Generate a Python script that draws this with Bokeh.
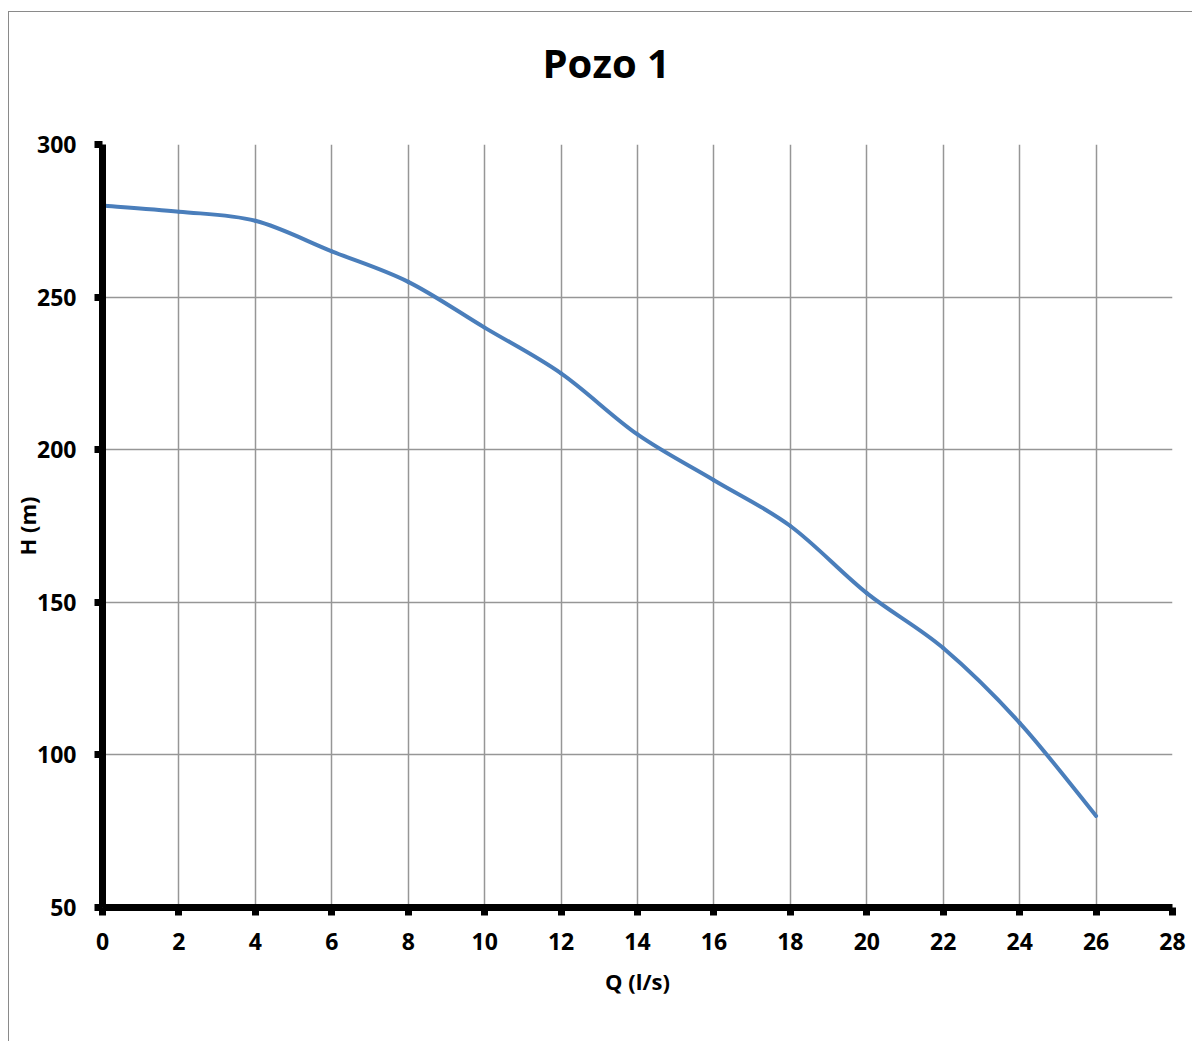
import numpy as np
from bokeh.plotting import figure
from bokeh.models import Range1d, SingleIntervalTicker, Title
from bokeh.embed import file_html
from bokeh.resources import INLINE

# data
q_values = [0, 2, 4, 6, 8, 10, 12, 14, 16, 18, 20, 22, 24, 26]
h_values = [280, 278, 275, 265, 255, 240, 225, 205, 190, 175, 153, 135, 110.5, 80]
x_ticks_step = 2
y_ticks_step = 50
title_text = "Pozo 1"

FONT = "Open Sans"

p = figure(width=1184, height=1030, output_backend="svg", toolbar_location=None,
           x_range=Range1d(0, 28), y_range=Range1d(50, 300),
           min_border_left=92, min_border_right=21, min_border_top=132, min_border_bottom=135,
           styles={"border-left": "1px solid #8a8a8a", "border-top": "1px solid #8a8a8a",
                   "margin-top": "11px", "margin-left": "8px"})

# real title (outermost in the "above" stack)
p.title.text = title_text
p.title.align = "left"
p.title.offset = 440
p.title.text_font = FONT
p.title.text_font_style = "bold"
p.title.text_font_size = "40px"
p.title.text_color = "black"
p.title.standoff = 0

# blank spacer between the title and the frame
p.add_layout(Title(text=" ", text_font=FONT, text_font_size="39px", standoff=0), "above")

p.outline_line_color = None
p.background_fill_color = "white"
p.border_fill_color = "white"

for ax in (p.xaxis[0], p.yaxis[0]):
    ax.axis_line_width = 7
    ax.axis_line_color = "black"
    ax.major_tick_line_width = 7
    ax.major_tick_line_color = "black"
    ax.major_tick_out = 8
    ax.major_tick_in = 0
    ax.minor_tick_line_color = None
    ax.major_label_text_font = FONT
    ax.major_label_text_font_style = "bold"
    ax.major_label_text_font_size = "23px"
    ax.major_label_text_color = "black"
    ax.axis_label_text_font = FONT
    ax.axis_label_text_font_style = "bold"
    ax.axis_label_text_font_size = "22px"
    ax.axis_label_text_color = "black"

p.xaxis[0].ticker = SingleIntervalTicker(interval=x_ticks_step)
p.yaxis[0].ticker = SingleIntervalTicker(interval=y_ticks_step)
p.xaxis[0].axis_label = "Q (l/s)"
p.yaxis[0].axis_label = "H (m)"
p.xaxis[0].major_label_standoff = 17
p.yaxis[0].major_label_standoff = 18
p.xaxis[0].axis_label_standoff = 13
p.yaxis[0].axis_label_standoff = -8

for g in (p.xgrid[0], p.ygrid[0]):
    g.grid_line_color = "#969696"
    g.grid_line_width = 1.5
p.xgrid[0].ticker = SingleIntervalTicker(interval=x_ticks_step)
p.ygrid[0].ticker = SingleIntervalTicker(interval=y_ticks_step)

# smoothed line (Catmull-Rom style Bezier segments built from data)
xs = np.array(q_values, dtype=float)
ys = np.array(h_values, dtype=float)
n = len(xs)
x0s, y0s, x1s, y1s, cx0, cy0, cx1, cy1 = [], [], [], [], [], [], [], []
for i in range(n - 1):
    p0 = (xs[max(i - 1, 0)], ys[max(i - 1, 0)])
    p1 = (xs[i], ys[i])
    p2 = (xs[i + 1], ys[i + 1])
    p3 = (xs[min(i + 2, n - 1)], ys[min(i + 2, n - 1)])
    x0s.append(p1[0]); y0s.append(p1[1])
    x1s.append(p2[0]); y1s.append(p2[1])
    cx0.append(p1[0] + (p2[0] - p0[0]) / 6); cy0.append(p1[1] + (p2[1] - p0[1]) / 6)
    cx1.append(p2[0] - (p3[0] - p1[0]) / 6); cy1.append(p2[1] - (p3[1] - p1[1]) / 6)

p.bezier(x0=x0s, y0=y0s, x1=x1s, y1=y1s, cx0=cx0, cy0=cy0, cx1=cx1, cy1=cy1,
         line_color="#4A7EBB", line_width=4, line_cap="round")

open("out.html", "w").write(file_html(p, INLINE))
